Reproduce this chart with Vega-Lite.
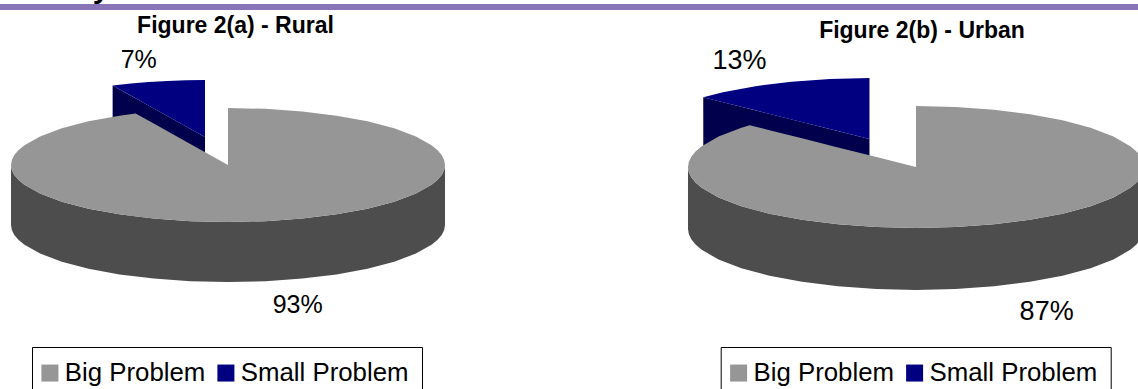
{
"$schema":"https://vega.github.io/schema/vega-lite/v6.json",
"padding":0,
"spacing":0,
"background":"white",
"config":{"view":{"stroke":null},"font":"Liberation Sans"},
"resolve":{"scale":{"color":"independent"},"legend":{"color":"independent"}},
"datasets":{
"ruralTop":[
{"x":-1,"y":0,"y2":0},{"x":-0.9962,"y":0.0872,"y2":-0.0872},{"x":-0.9848,"y":0.1736,"y2":-0.1736},{"x":-0.9659,"y":0.2588,"y2":-0.2588},{"x":-0.9397,"y":0.342,"y2":-0.342},{"x":-0.866,"y":0.5,"y2":-0.5},{"x":-0.766,"y":0.6428,"y2":-0.6428},{"x":-0.6428,"y":0.766,"y2":-0.766},{"x":-0.5,"y":0.866,"y2":-0.866},{"x":-0.4258,"y":0.9048,"y2":-0.9048},{"x":-0.342,"y":0.7267,"y2":-0.9397},{"x":-0.1736,"y":0.3689,"y2":-0.9848},{"x":0,"y":0,"y2":-1},
{"x":0,"y":1,"y2":-1},{"x":0.1736,"y":0.9848,"y2":-0.9848},{"x":0.342,"y":0.9397,"y2":-0.9397},{"x":0.5,"y":0.866,"y2":-0.866},{"x":0.6428,"y":0.766,"y2":-0.766},{"x":0.766,"y":0.6428,"y2":-0.6428},{"x":0.866,"y":0.5,"y2":-0.5},{"x":0.9397,"y":0.342,"y2":-0.342},{"x":0.9659,"y":0.2588,"y2":-0.2588},{"x":0.9848,"y":0.1736,"y2":-0.1736},{"x":0.9962,"y":0.0872,"y2":-0.0872},{"x":1,"y":0,"y2":0}],
"ruralRim":[
{"x":-1,"y":0,"y2":-1.053},{"x":-0.9962,"y":-0.0872,"y2":-1.1402},{"x":-0.9848,"y":-0.1736,"y2":-1.2266},{"x":-0.9659,"y":-0.2588,"y2":-1.3118},{"x":-0.9397,"y":-0.342,"y2":-1.395},{"x":-0.866,"y":-0.5,"y2":-1.553},{"x":-0.766,"y":-0.6428,"y2":-1.6958},{"x":-0.6428,"y":-0.766,"y2":-1.819},{"x":-0.5,"y":-0.866,"y2":-1.919},{"x":-0.342,"y":-0.9397,"y2":-1.9927},{"x":-0.1736,"y":-0.9848,"y2":-2.0378},{"x":0,"y":-1,"y2":-2.053},{"x":0.1736,"y":-0.9848,"y2":-2.0378},{"x":0.342,"y":-0.9397,"y2":-1.9927},{"x":0.5,"y":-0.866,"y2":-1.919},{"x":0.6428,"y":-0.766,"y2":-1.819},{"x":0.766,"y":-0.6428,"y2":-1.6958},{"x":0.866,"y":-0.5,"y2":-1.553},{"x":0.9397,"y":-0.342,"y2":-1.395},{"x":0.9659,"y":-0.2588,"y2":-1.3118},{"x":0.9848,"y":-0.1736,"y2":-1.2266},{"x":0.9962,"y":-0.0872,"y2":-1.1402},{"x":1,"y":0,"y2":-1.053}],
"ruralSmall":[
{"x":-0.5318,"y":1.3958,"y2":1.3958},{"x":-0.448,"y":1.4307,"y2":1.2177},{"x":-0.3648,"y":1.4569,"y2":1.041},{"x":-0.2796,"y":1.4758,"y2":0.8599},{"x":-0.1932,"y":1.4872,"y2":0.6763},{"x":-0.106,"y":1.491,"y2":0.491}],
"ruralCut":[{"x":-0.5318,"y":1.3958,"y2":0.3428},{"x":-0.106,"y":0.491,"y2":-0.562}],
"ruralBand":[{"x":-1.0507,"x2":1.5714,"y":2.8246,"y2":2.7193}],
"ruralTitle":[{"x":0.0346,"y":2.307,"text":"Figure 2(a) - Rural"}],
"ruralLabels":[{"x":-0.4115,"y":1.696,"text":"7%"},{"x":0.321,"y":-2.591,"text":"93%"}],
"headingTail":[{"x":-0.585,"y":2.93,"text":"y"}],
"urbanTop":[
{"x":-1,"y":0,"y2":0},{"x":-0.9962,"y":0.0872,"y2":-0.0872},{"x":-0.9848,"y":0.1736,"y2":-0.1736},{"x":-0.9659,"y":0.2588,"y2":-0.2588},{"x":-0.9397,"y":0.342,"y2":-0.342},{"x":-0.866,"y":0.5,"y2":-0.5},{"x":-0.766,"y":0.6428,"y2":-0.6428},{"x":-0.729,"y":0.6845,"y2":-0.6845},{"x":-0.6428,"y":0.6036,"y2":-0.766},{"x":-0.5,"y":0.4695,"y2":-0.866},{"x":-0.342,"y":0.3211,"y2":-0.9397},{"x":-0.1736,"y":0.163,"y2":-0.9848},{"x":0,"y":0,"y2":-1},
{"x":0,"y":1,"y2":-1},{"x":0.1736,"y":0.9848,"y2":-0.9848},{"x":0.342,"y":0.9397,"y2":-0.9397},{"x":0.5,"y":0.866,"y2":-0.866},{"x":0.6428,"y":0.766,"y2":-0.766},{"x":0.766,"y":0.6428,"y2":-0.6428},{"x":0.866,"y":0.5,"y2":-0.5},{"x":0.9397,"y":0.342,"y2":-0.342},{"x":0.9659,"y":0.2588,"y2":-0.2588},{"x":0.9848,"y":0.1736,"y2":-0.1736},{"x":0.9962,"y":0.0872,"y2":-0.0872},{"x":1,"y":0,"y2":0}],
"urbanRim":[
{"x":-1,"y":0,"y2":-1.016},{"x":-0.9962,"y":-0.0872,"y2":-1.1032},{"x":-0.9848,"y":-0.1736,"y2":-1.1896},{"x":-0.9659,"y":-0.2588,"y2":-1.2748},{"x":-0.9397,"y":-0.342,"y2":-1.358},{"x":-0.866,"y":-0.5,"y2":-1.516},{"x":-0.766,"y":-0.6428,"y2":-1.6588},{"x":-0.6428,"y":-0.766,"y2":-1.782},{"x":-0.5,"y":-0.866,"y2":-1.882},{"x":-0.342,"y":-0.9397,"y2":-1.9557},{"x":-0.1736,"y":-0.9848,"y2":-2.0008},{"x":0,"y":-1,"y2":-2.016},{"x":0.1736,"y":-0.9848,"y2":-2.0008},{"x":0.342,"y":-0.9397,"y2":-1.9557},{"x":0.5,"y":-0.866,"y2":-1.882},{"x":0.6428,"y":-0.766,"y2":-1.782},{"x":0.766,"y":-0.6428,"y2":-1.6588},{"x":0.866,"y":-0.5,"y2":-1.516},{"x":0.9397,"y":-0.342,"y2":-1.358},{"x":0.9659,"y":-0.2588,"y2":-1.2748},{"x":0.9848,"y":-0.1736,"y2":-1.1896},{"x":0.9962,"y":-0.0872,"y2":-1.1032},{"x":1,"y":0,"y2":-1.016}],
"urbanSmall":[
{"x":-0.933,"y":1.1435,"y2":1.1435},{"x":-0.8468,"y":1.225,"y2":1.0626},{"x":-0.704,"y":1.325,"y2":0.9285},{"x":-0.546,"y":1.3987,"y2":0.7801},{"x":-0.3776,"y":1.4438,"y2":0.622},{"x":-0.204,"y":1.459,"y2":0.459}],
"urbanCut":[{"x":-0.933,"y":1.1435,"y2":0.1275},{"x":-0.204,"y":0.459,"y2":-0.557}],
"urbanBand":[{"x":-1.5219,"x2":0.9737,"y":2.6721,"y2":2.5738}],
"urbanTitle":[{"x":0.0263,"y":2.115,"text":"Figure 2(b) - Urban"}],
"urbanLabels":[{"x":-0.774,"y":1.607,"text":"13%"},{"x":0.573,"y":-2.508,"text":"87%"}]
},
"hconcat":[
{
"width":569,"height":389,
"encoding":{
"x":{"field":"x","type":"quantitative","axis":null,"scale":{"domain":[-1.0507,1.5714],"nice":false,"zero":false}},
"y":{"field":"y","type":"quantitative","axis":null,"scale":{"domain":[-3.9298,2.8947],"nice":false,"zero":false}}
},
"layer":[
{"data":{"name":"ruralBand"},"mark":{"type":"rect","color":"#8a74b8","clip":true},"encoding":{"x2":{"field":"x2"},"y2":{"field":"y2"}}},
{"data":{"name":"headingTail"},"mark":{"type":"text","clip":true,"fontWeight":"bold","fontSize":30,"baseline":"alphabetic","align":"center","color":"black"},"encoding":{"text":{"field":"text"}}},
{"data":{"name":"ruralCut"},"mark":{"type":"area","color":"#00004d","clip":true},"encoding":{"y2":{"field":"y2"}}},
{"data":{"name":"ruralSmall"},"mark":{"type":"area","clip":true},"encoding":{"y2":{"field":"y2"},"color":{"datum":"Small Problem","type":"nominal","scale":{"domain":["Big Problem","Small Problem"],"range":["#969696","#000080"]},"legend":{"title":null,"orient":"none","legendX":32,"legendY":347,"direction":"horizontal","columns":2,"symbolType":"square","symbolSize":289,"symbolStrokeWidth":0,"symbolOpacity":1,"symbolOffset":-8,"labelFontSize":25.8,"labelFont":"Liberation Sans","labelColor":"black","labelOffset":2,"labelLimit":300,"columnPadding":11,"padding":13,"strokeColor":"black","fillColor":"white","encoding":{"labels":{"enter":{"dy":{"value":-3}},"update":{"dy":{"value":-3}}}}}}}},
{"data":{"name":"ruralRim"},"mark":{"type":"area","color":"#4d4d4d","clip":true},"encoding":{"y2":{"field":"y2"}}},
{"data":{"name":"ruralTop"},"mark":{"type":"area","clip":true},"encoding":{"y2":{"field":"y2"},"color":{"datum":"Big Problem","type":"nominal"}}},
{"data":{"name":"ruralTitle"},"mark":{"type":"text","fontWeight":"bold","fontSize":23,"baseline":"alphabetic","align":"center","color":"black"},"encoding":{"text":{"field":"text"}}},
{"data":{"name":"ruralLabels"},"mark":{"type":"text","fontSize":25,"baseline":"alphabetic","align":"center","color":"black"},"encoding":{"text":{"field":"text"}}}
]
},
{
"width":569,"height":389,
"encoding":{
"x":{"field":"x","type":"quantitative","axis":null,"scale":{"domain":[-1.5219,0.9737],"nice":false,"zero":false}},
"y":{"field":"y","type":"quantitative","axis":null,"scale":{"domain":[-3.6393,2.7377],"nice":false,"zero":false}}
},
"layer":[
{"data":{"name":"urbanBand"},"mark":{"type":"rect","color":"#8a74b8","clip":true},"encoding":{"x2":{"field":"x2"},"y2":{"field":"y2"}}},
{"data":{"name":"urbanCut"},"mark":{"type":"area","color":"#00004d","clip":true},"encoding":{"y2":{"field":"y2"}}},
{"data":{"name":"urbanSmall"},"mark":{"type":"area","clip":true},"encoding":{"y2":{"field":"y2"},"color":{"datum":"Small Problem","type":"nominal","scale":{"domain":["Big Problem","Small Problem"],"range":["#969696","#000080"]},"legend":{"title":null,"orient":"none","legendX":151.7,"legendY":347,"direction":"horizontal","columns":2,"symbolType":"square","symbolSize":289,"symbolStrokeWidth":0,"symbolOpacity":1,"symbolOffset":-8,"labelFontSize":25.8,"labelFont":"Liberation Sans","labelColor":"black","labelOffset":2,"labelLimit":300,"columnPadding":11,"padding":13,"strokeColor":"black","fillColor":"white","encoding":{"labels":{"enter":{"dy":{"value":-3}},"update":{"dy":{"value":-3}}}}}}}},
{"data":{"name":"urbanRim"},"mark":{"type":"area","color":"#4d4d4d","clip":true},"encoding":{"y2":{"field":"y2"}}},
{"data":{"name":"urbanTop"},"mark":{"type":"area","clip":true},"encoding":{"y2":{"field":"y2"},"color":{"datum":"Big Problem","type":"nominal"}}},
{"data":{"name":"urbanTitle"},"mark":{"type":"text","fontWeight":"bold","fontSize":23,"baseline":"alphabetic","align":"center","color":"black"},"encoding":{"text":{"field":"text"}}},
{"data":{"name":"urbanLabels"},"mark":{"type":"text","fontSize":27,"baseline":"alphabetic","align":"center","color":"black"},"encoding":{"text":{"field":"text"}}}
]
}
]
}
